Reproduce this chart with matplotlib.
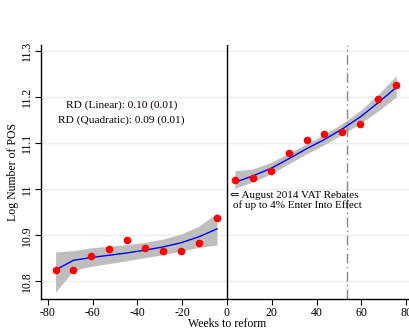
import numpy as np
import matplotlib
matplotlib.use("Agg")
import matplotlib.pyplot as plt

plt.rcParams["font.family"] = ["Liberation Serif", "DejaVu Serif"]

# binned means (8-week bins) before and after the reform
x_pre = [-76.5, -68.5, -60.5, -52.5, -44.5, -36.5, -28.5, -20.5, -12.5, -4.5]
y_pre = [10.825, 10.825, 10.856, 10.871, 10.890, 10.873, 10.867, 10.866, 10.883, 10.937]
fit_pre = [10.825, 10.846, 10.852, 10.857, 10.862, 10.868, 10.875, 10.884, 10.897, 10.914]
lo_pre = [10.777, 10.824, 10.833, 10.839, 10.845, 10.852, 10.858, 10.866, 10.874, 10.879]
hi_pre = [10.864, 10.867, 10.873, 10.877, 10.880, 10.885, 10.892, 10.903, 10.920, 10.949]

x_post = [3.5, 11.5, 19.5, 27.5, 35.5, 43.5, 51.5, 59.5, 67.5, 75.5]
y_post = [11.020, 11.025, 11.040, 11.079, 11.107, 11.119, 11.125, 11.141, 11.195, 11.226]
fit_post = [11.015, 11.029, 11.045, 11.066, 11.088, 11.108, 11.131, 11.157, 11.188, 11.221]
lo_post = [11.002, 11.016, 11.033, 11.055, 11.077, 11.097, 11.119, 11.143, 11.170, 11.200]
hi_post = [11.040, 11.044, 11.058, 11.078, 11.099, 11.119, 11.143, 11.171, 11.206, 11.246]

yticks = [10.8, 10.9, 11.0, 11.1, 11.2, 11.3]
ytick_labels = ["10.8", "10.9", "11", "11.1", "11.2", "11.3"]
xticks = [-80, -60, -40, -20, 0, 20, 40, 60, 80]

fig = plt.figure(figsize=(4.10, 3.29), dpi=100)
ax = fig.add_axes([41 / 410, 30 / 329, 372 / 410, 254 / 329])

for yt in yticks:
    ax.axhline(yt, color="#e8f0f0", lw=1.0, zorder=0)

ax.fill_between(x_pre, lo_pre, hi_pre, color="#bebebe", lw=0, zorder=1)
ax.fill_between(x_post, lo_post, hi_post, color="#bebebe", lw=0, zorder=1)
ax.plot(x_pre, fit_pre, color="#0000ff", lw=1.0, zorder=2)
ax.plot(x_post, fit_post, color="#0000ff", lw=1.0, zorder=2)
ax.plot(x_pre, y_pre, "o", color="#ff0000", ms=5.5, mec="none", zorder=3)
ax.plot(x_post, y_post, "o", color="#ff0000", ms=5.5, mec="none", zorder=3)

ax.axvline(0, color="black", lw=1.0, zorder=2)
ax.axvline(53.5, color="#888888", lw=1.0, ls=(0, (7, 2.5, 1, 2.5)), zorder=2)

ax.text(-47, 11.183, "RD (Linear): 0.10 (0.01)", ha="center", va="center", fontsize=8.2)
ax.text(-47, 11.149, "RD (Quadratic): 0.09 (0.01)", ha="center", va="center", fontsize=8.2)
ax.text(1.2, 10.986, "\u21d0 August 2014 VAT Rebates", ha="left", va="center", fontsize=8)
ax.text(2.5, 10.966, "of up to 4% Enter Into Effect", ha="left", va="center", fontsize=8)

ax.set_xlim(-83, 83)
ax.set_ylim(10.762, 11.313)
ax.set_xticks(xticks)
ax.set_xticklabels([str(v) for v in xticks], fontsize=8.5)
ax.set_yticks(yticks)
ax.set_yticklabels(ytick_labels, fontsize=8.5, rotation=90, va="center")
ax.tick_params(direction="out", length=4, width=0.8, pad=1.5)
ax.set_xlabel("Weeks to reform", fontsize=8.5, labelpad=-0.5)
ax.set_ylabel("Log Number of POS", fontsize=8.5, labelpad=2)

for side in ["top", "right"]:
    ax.spines[side].set_visible(False)
for side in ["left", "bottom"]:
    ax.spines[side].set_linewidth(1.0)

fig.savefig("out.png", dpi=100, facecolor="white")
